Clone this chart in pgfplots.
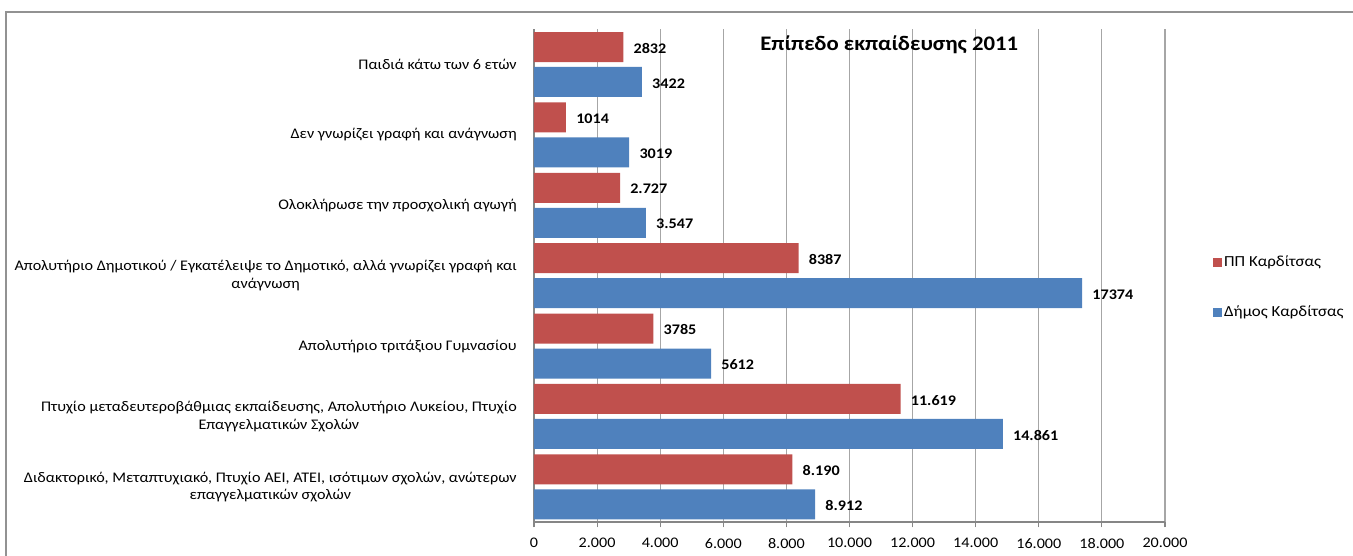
\documentclass[border=0pt]{standalone}
\usepackage{fontspec}
\setmainfont{Carlito}[FakeStretch=1.1]
\usepackage{pgfplots}
\pgfplotsset{compat=1.18}
\definecolor{ppred}{HTML}{C0504D}
\definecolor{dimblue}{HTML}{4F81BD}
\definecolor{gridgray}{HTML}{A6A6A6}
\definecolor{axisgray}{HTML}{868686}
\newcommand{\lblfont}{\fontsize{11}{13}\selectfont}
\begin{document}
\begin{tikzpicture}
\path[use as bounding box] (0pt,0pt) rectangle (1014.75pt,417pt);
\draw[axisgray!90, line width=1.1pt] (4.5pt,-2pt) -- (4.5pt,408pt) -- (1020pt,408pt);
\begin{axis}[
  at={(400.5pt,25.5pt)}, anchor=south west,
  scale only axis, width=473.25pt, height=369.5pt,
  xbar, bar width=22.5pt,
  xmin=0, xmax=20000,
  ymin=-0.5, ymax=6.5,
  axis x line*=bottom, axis y line*=left,
  axis line style={axisgray, line width=0.8pt, -},
  xtick={0,2000,...,20000},
  scaled x ticks=false,
  xmajorgrids, grid style={gridgray, line width=0.8pt},
  tick align=outside,
  major tick length=4pt,
  tick style={axisgray, line width=0.8pt},
  ytick={0,...,6},
  ytick style={draw=none},
  minor ytick={-0.5,0.5,...,6.5},
  minor tick length=3pt,
  minor y tick style={axisgray, line width=0.8pt},
  yticklabels={
    {Διδακτορικό, Μεταπτυχιακό, Πτυχίο ΑΕΙ, ΑΤΕΙ, ισότιμων σχολών, ανώτερων\\επαγγελματικών σχολών},
    {Πτυχίο μεταδευτεροβάθμιας εκπαίδευσης, Απολυτήριο Λυκείου, Πτυχίο\\Επαγγελματικών Σχολών},
    {Απολυτήριο τριτάξιου Γυμνασίου},
    {Απολυτήριο Δημοτικού / Εγκατέλειψε το Δημοτικό, αλλά γνωρίζει γραφή και\\ανάγνωση},
    {Ολοκλήρωσε την προσχολική αγωγή},
    {Δεν γνωρίζει γραφή και ανάγνωση},
    {Παιδιά κάτω των 6 ετών}},
  yticklabel style={align=center, font=\lblfont, inner sep=0pt, xshift=-8.75pt},
  xticklabel style={font=\lblfont, inner sep=0pt, yshift=-8pt},
  /pgf/number format/.cd, 1000 sep={.}, assume math mode=true, /pgfplots/.cd,
  nodes near coords,
  point meta=explicit symbolic,
  nodes near coords style={font=\bfseries\lblfont, anchor=west, inner sep=0pt, xshift=7.5pt, yshift=-1pt, text=black},
  legend style={at={(1.076,0.476)}, anchor=west, draw=none, fill=none,
    font=\fontsize{11.5}{13.5}\selectfont, row sep=25pt, inner sep=0pt, nodes={inner sep=1.5pt}},
  legend cell align=left,
  legend image code/.code={\draw[#1, draw=none] (0pt,-3.4pt) rectangle (6.75pt,3.4pt);},
  clip=false,
]
\addplot[fill=ppred, draw=none, bar shift=13.1pt] coordinates {
  (2832,6)  [2832]
  (1014,5)  [1014]
  (2727,4)  [2.727]
  (8387,3)  [8387]
  (3785,2)  [3785]
  (11619,1) [11.619]
  (8190,0)  [8.190]
};
\addplot[fill=dimblue, draw=none, bar shift=-13.1pt] coordinates {
  (3422,6)  [3422]
  (3019,5)  [3019]
  (3547,4)  [3.547]
  (17374,3) [17374]
  (5612,2)  [5612]
  (14861,1) [14.861]
  (8912,0)  [8.912]
};
\legend{ΠΠ Καρδίτσας, Δήμος Καρδίτσας}
\node[font=\bfseries\fontsize{15.5}{18}\selectfont] at (rel axis cs:0.563,0.969) {Επίπεδο εκπαίδευσης 2011};
\end{axis}
\end{tikzpicture}
\end{document}
